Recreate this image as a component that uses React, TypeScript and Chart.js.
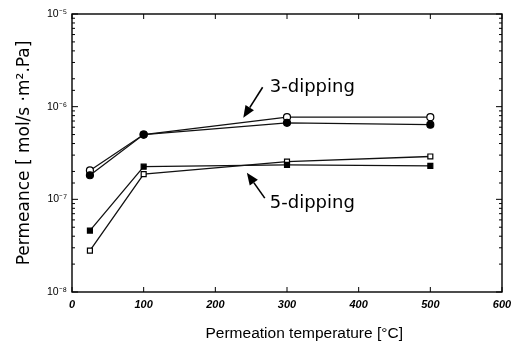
import React, { useEffect, useRef } from 'react';
import { Chart, registerables } from 'chart.js';

Chart.register(...registerables);

const temperatures = [25, 100, 300, 500];
const dip3Open = [2.05e-7, 5.0e-7, 7.7e-7, 7.7e-7];
const dip3Filled = [1.82e-7, 5.0e-7, 6.7e-7, 6.4e-7];
const dip5Open = [2.8e-8, 1.87e-7, 2.55e-7, 2.9e-7];
const dip5Filled = [4.6e-8, 2.25e-7, 2.35e-7, 2.3e-7];
const yDecades = [1e-8, 1e-7, 1e-6, 1e-5];
const yTickLabels = ['10⁻⁸', '10⁻⁷', '10⁻⁶', '10⁻⁵'];
const annotationLabels = ['3-dipping', '5-dipping'];

const isDecade = (v: number) => {
  const l = Math.log10(v);
  return Math.abs(l - Math.round(l)) < 1e-6;
};

const framePlugin = {
  id: 'frameTicks',
  afterDatasetsDraw(chart: any) {
    const { ctx, chartArea: a, scales } = chart;
    const xs = scales.x;
    const ys = scales.y;
    ctx.save();
    ctx.strokeStyle = '#000';
    ctx.lineWidth = 1.4;
    ctx.strokeRect(a.left, a.top, a.right - a.left, a.bottom - a.top);
    ctx.lineWidth = 1;
    ctx.beginPath();
    xs.ticks.forEach((t: any) => {
      const px = xs.getPixelForValue(t.value);
      ctx.moveTo(px, a.bottom);
      ctx.lineTo(px, a.bottom - 5);
      ctx.moveTo(px, a.top);
      ctx.lineTo(px, a.top + 5);
    });
    ys.ticks.forEach((t: any) => {
      const py = ys.getPixelForValue(t.value);
      const len = isDecade(t.value) ? 6 : 3;
      ctx.moveTo(a.left, py);
      ctx.lineTo(a.left + len, py);
      ctx.moveTo(a.right, py);
      ctx.lineTo(a.right - len, py);
    });
    ctx.stroke();

    const arrow = (x1: number, y1: number, x2: number, y2: number) => {
      const ang = Math.atan2(y2 - y1, x2 - x1);
      const hl = 12;
      const hw = 5;
      const bx = x2 - hl * Math.cos(ang);
      const by = y2 - hl * Math.sin(ang);
      ctx.lineWidth = 1.6;
      ctx.beginPath();
      ctx.moveTo(x1, y1);
      ctx.lineTo(bx, by);
      ctx.stroke();
      ctx.beginPath();
      ctx.moveTo(x2, y2);
      ctx.lineTo(bx + hw * Math.sin(ang), by - hw * Math.cos(ang));
      ctx.lineTo(bx - hw * Math.sin(ang), by + hw * Math.cos(ang));
      ctx.closePath();
      ctx.fill();
    };
    ctx.fillStyle = '#000';
    arrow(xs.getPixelForValue(266), ys.getPixelForValue(1.62e-6), xs.getPixelForValue(239), ys.getPixelForValue(7.6e-7));
    arrow(xs.getPixelForValue(269), ys.getPixelForValue(1.03e-7), xs.getPixelForValue(244), ys.getPixelForValue(1.93e-7));
    ctx.font = '18px "DejaVu Sans"';
    ctx.textAlign = 'left';
    ctx.textBaseline = 'middle';
    ctx.fillText(annotationLabels[0], xs.getPixelForValue(276), ys.getPixelForValue(1.6e-6));
    ctx.fillText(annotationLabels[1], xs.getPixelForValue(276), ys.getPixelForValue(9.0e-8));
    ctx.restore();
  },
};

export default function App() {
  const ref = useRef<HTMLCanvasElement | null>(null);
  useEffect(() => {
    if (!ref.current) return;
    const mk = (data: number[], style: string, filled: boolean) => ({
      data: temperatures.map((t, i) => ({ x: t, y: data[i] })),
      borderColor: '#111',
      borderWidth: 1.3,
      pointStyle: style,
      pointRadius: 3.5,
      pointBorderWidth: 1.2,
      pointBorderColor: '#000',
      pointBackgroundColor: filled ? '#000' : '#fff',
      fill: false,
      tension: 0,
    });
    const chart = new Chart(ref.current, {
      type: 'line',
      data: {
        datasets: [
          { label: '3-dipping filled', ...mk(dip3Filled, 'circle', true) },
          { label: '3-dipping open', ...mk(dip3Open, 'circle', false) },
          { label: '5-dipping filled', ...mk(dip5Filled, 'rect', true) },
          { label: '5-dipping open', ...mk(dip5Open, 'rect', false) },
        ] as any,
      },
      options: {
        animation: false,
        responsive: false,
        layout: { padding: { top: 14, right: 12, left: 0, bottom: 0 } },
        plugins: { legend: { display: false }, tooltip: { enabled: false } },
        scales: {
          x: {
            type: 'linear',
            min: 0,
            max: 600,
            grid: { display: false, drawTicks: false },
            border: { display: false },
            ticks: {
              stepSize: 100,
              padding: 6,
              color: '#000',
              font: { family: '"Liberation Sans", Arial, sans-serif', size: 11, style: 'italic', weight: 'bold' },
              callback: (v: any) => String(v),
            },
            title: {
              display: true,
              text: '        Permeation temperature [°C]',
              color: '#000',
              font: { family: '"Liberation Sans", Arial, sans-serif', size: 15.5 },
              padding: { top: 4, bottom: 0 },
            },
            afterFit: (s: any) => { s.height = 51; s.paddingLeft = 0; s.paddingRight = 0; },
          },
          y: {
            type: 'logarithmic',
            min: 1e-8,
            max: 1e-5,
            grid: { display: false, drawTicks: false },
            border: { display: false },
            ticks: {
              autoSkip: false,
              padding: 5,
              color: '#000',
              font: { family: '"Liberation Sans", Arial, sans-serif', size: 10.5 },
              callback: (v: any) => {
                const idx = yDecades.findIndex((d) => Math.abs(Math.log10(d) - Math.log10(v)) < 1e-6);
                return idx >= 0 ? yTickLabels[idx] : '';
              },
            },
            title: {
              display: true,
              text: 'Permeance [ mol/s ·m².Pa]',
              color: '#000',
              font: { family: '"DejaVu Sans", sans-serif', size: 17 },
              padding: { top: 14, bottom: 4 },
            },
            afterFit: (s: any) => { s.width = 72; s.paddingTop = 0; s.paddingBottom = 0; },
          },
        },
      } as any,
      plugins: [framePlugin],
    });
    return () => chart.destroy();
  }, []);
  return (
    <div style={{ position: 'absolute', left: 0, top: 0, width: 514, height: 343, background: '#fff' }}>
      <canvas ref={ref} width={514} height={343} />
    </div>
  );
}
